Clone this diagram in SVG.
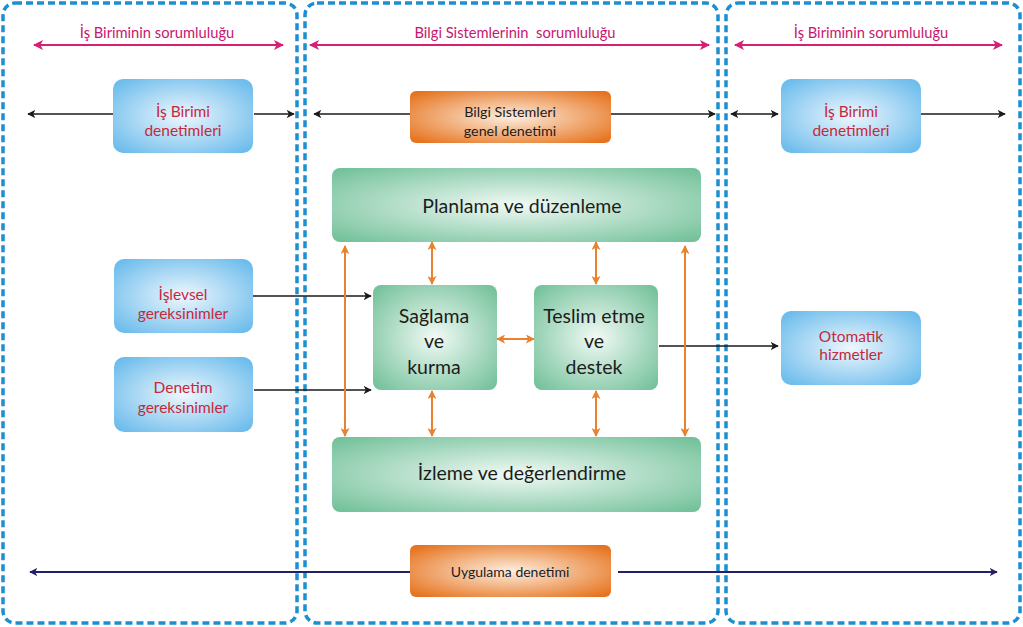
<svg xmlns="http://www.w3.org/2000/svg" width="1023" height="627" viewBox="0 0 1023 627">
<style>
.panel{fill:none;stroke:#1b8fd2;stroke-width:3.5;stroke-dasharray:7 4}
.t{font-family:Lato,"Liberation Sans",sans-serif;text-anchor:middle;font-weight:400}
.pink{fill:#c8166e;font-size:14.7px}
.red{fill:#c42a3c;font-size:15.5px}
.dark{fill:#1c1c1c;font-size:14.3px}
.big{fill:#1c1c1c;font-size:19.5px}
.blk{stroke:#1a1a1a;stroke-width:1.6;fill:none}
.org{stroke:#e8822e;stroke-width:2;fill:none}
.pk{stroke:#d61f75;stroke-width:2;fill:none}
.nv{stroke:#23206a;stroke-width:1.8;fill:none}
</style>
<defs>
<radialGradient id="gb" cx="50%" cy="50%" r="65%"><stop offset="0" stop-color="#eef7fd"/><stop offset="1" stop-color="#6cbcec"/></radialGradient>
<radialGradient id="go" cx="50%" cy="50%" r="65%"><stop offset="0" stop-color="#fdeee0"/><stop offset="1" stop-color="#e6741f"/></radialGradient>
<radialGradient id="gg" cx="50%" cy="50%" r="70%"><stop offset="0" stop-color="#f1faf5"/><stop offset="1" stop-color="#6fbf97"/></radialGradient>
<marker id="ab" viewBox="0 0 10 10" refX="9" refY="5" markerWidth="8" markerHeight="8" markerUnits="userSpaceOnUse" orient="auto-start-reverse"><path d="M0,0 L10,5 L0,10 L2.5,5 z" fill="#1a1a1a"/></marker>
<marker id="ao" viewBox="0 0 10 10" refX="9" refY="5" markerWidth="9" markerHeight="9" markerUnits="userSpaceOnUse" orient="auto-start-reverse"><path d="M0,0 L10,5 L0,10 L2.5,5 z" fill="#e8822e"/></marker>
<marker id="ap" viewBox="0 0 10 10" refX="9" refY="5" markerWidth="10" markerHeight="10" markerUnits="userSpaceOnUse" orient="auto-start-reverse"><path d="M0,0 L10,5 L0,10 L2.5,5 z" fill="#d61f75"/></marker>
<marker id="an" viewBox="0 0 10 10" refX="9" refY="5" markerWidth="8" markerHeight="8" markerUnits="userSpaceOnUse" orient="auto-start-reverse"><path d="M0,0 L10,5 L0,10 L2.5,5 z" fill="#23206a"/></marker>
</defs>
<rect width="1023" height="627" fill="#ffffff"/>
<g id="panels">
<rect class="panel" x="3" y="3" width="294" height="620" rx="12"/>
<rect class="panel" x="305" y="3" width="413" height="620" rx="12"/>
<rect class="panel" x="726" y="3" width="294" height="620" rx="12"/>
</g>
<g id="titles">
<text class="t pink" x="157" y="38">İş Biriminin sorumluluğu</text>
<text class="t pink" x="515" y="38">Bilgi Sistemlerinin&#160; sorumluluğu</text>
<text class="t pink" x="871" y="38">İş Biriminin sorumluluğu</text>
</g>
<g id="connectors">
<line class="pk" x1="34" y1="45" x2="283" y2="45" marker-start="url(#ap)" marker-end="url(#ap)"/>
<line class="pk" x1="310" y1="45" x2="709" y2="45" marker-start="url(#ap)" marker-end="url(#ap)"/>
<line class="pk" x1="735" y1="45" x2="1002" y2="45" marker-start="url(#ap)" marker-end="url(#ap)"/>
<line class="blk" x1="113" y1="114" x2="28" y2="114" marker-end="url(#ab)"/>
<line class="blk" x1="254" y1="114" x2="294" y2="114" marker-end="url(#ab)"/>
<line class="blk" x1="410" y1="114" x2="314" y2="114" marker-end="url(#ab)"/>
<line class="blk" x1="610" y1="114" x2="715" y2="114" marker-end="url(#ab)"/>
<line class="blk" x1="731" y1="114" x2="778" y2="114" marker-start="url(#ab)" marker-end="url(#ab)"/>
<line class="blk" x1="921" y1="114" x2="1005" y2="114" marker-end="url(#ab)"/>
<line class="blk" x1="253" y1="296" x2="371" y2="296" marker-end="url(#ab)"/>
<line class="blk" x1="254" y1="390" x2="371" y2="390" marker-end="url(#ab)"/>
<line class="blk" x1="659" y1="346" x2="778" y2="346" marker-end="url(#ab)"/>
<line class="org" x1="345" y1="246" x2="345" y2="436" marker-start="url(#ao)" marker-end="url(#ao)"/>
<line class="org" x1="685" y1="246" x2="685" y2="436" marker-start="url(#ao)" marker-end="url(#ao)"/>
<line class="org" x1="432" y1="242" x2="432" y2="284" marker-start="url(#ao)" marker-end="url(#ao)"/>
<line class="org" x1="596" y1="242" x2="596" y2="284" marker-start="url(#ao)" marker-end="url(#ao)"/>
<line class="org" x1="432" y1="391" x2="432" y2="436" marker-start="url(#ao)" marker-end="url(#ao)"/>
<line class="org" x1="596" y1="391" x2="596" y2="436" marker-start="url(#ao)" marker-end="url(#ao)"/>
<line class="org" x1="497" y1="339" x2="534" y2="339" marker-start="url(#ao)" marker-end="url(#ao)"/>
<line class="nv" x1="410" y1="572" x2="30" y2="572" marker-end="url(#an)"/>
<line class="nv" x1="618" y1="572" x2="997" y2="572" marker-end="url(#an)"/>
</g>
<g id="n-isbirimi-left"><rect x="113" y="79" width="140" height="74" rx="10" fill="url(#gb)"/><text class="t red" x="183" y="117">İş Birimi</text><text class="t red" x="183" y="136">denetimleri</text></g>
<g id="n-bs-genel"><rect x="410" y="91" width="201" height="52" rx="6" fill="url(#go)"/><text class="t dark" x="510" y="117">Bilgi Sistemleri</text><text class="t dark" x="510" y="136">genel denetimi</text></g>
<g id="n-isbirimi-right"><rect x="781" y="79" width="140" height="74" rx="10" fill="url(#gb)"/><text class="t red" x="851" y="117">İş Birimi</text><text class="t red" x="851" y="136">denetimleri</text></g>
<g id="n-islevsel"><rect x="114" y="259" width="139" height="74" rx="10" fill="url(#gb)"/><text class="t red" x="183" y="300">İşlevsel</text><text class="t red" x="183" y="319">gereksinimler</text></g>
<g id="n-denetim"><rect x="114" y="357" width="139" height="75" rx="10" fill="url(#gb)"/><text class="t red" x="183" y="393">Denetim</text><text class="t red" x="183" y="413">gereksinimler</text></g>
<g id="n-otomatik"><rect x="781" y="311" width="140" height="74" rx="10" fill="url(#gb)"/><text class="t red" x="851" y="342">Otomatik</text><text class="t red" x="851" y="360">hizmetler</text></g>
<g id="n-planlama"><rect x="332" y="168" width="369" height="74" rx="8" fill="url(#gg)"/><text class="t big" x="522" y="213">Planlama ve düzenleme</text></g>
<g id="n-saglama"><rect x="373" y="285" width="124" height="105" rx="8" fill="url(#gg)"/><text class="t big" x="434" y="323">Sağlama</text><text class="t big" x="434" y="348">ve</text><text class="t big" x="434" y="374">kurma</text></g>
<g id="n-teslim"><rect x="534" y="285" width="124" height="105" rx="8" fill="url(#gg)"/><text class="t big" x="594" y="323">Teslim etme</text><text class="t big" x="594" y="348">ve</text><text class="t big" x="594" y="374">destek</text></g>
<g id="n-izleme"><rect x="332" y="437" width="369" height="75" rx="8" fill="url(#gg)"/><text class="t big" x="522" y="480">İzleme ve değerlendirme</text></g>
<g id="n-uygulama"><rect x="410" y="545" width="201" height="52" rx="6" fill="url(#go)"/><text class="t dark" x="510" y="577" style="font-size:14px">Uygulama denetimi</text></g>
</svg>
